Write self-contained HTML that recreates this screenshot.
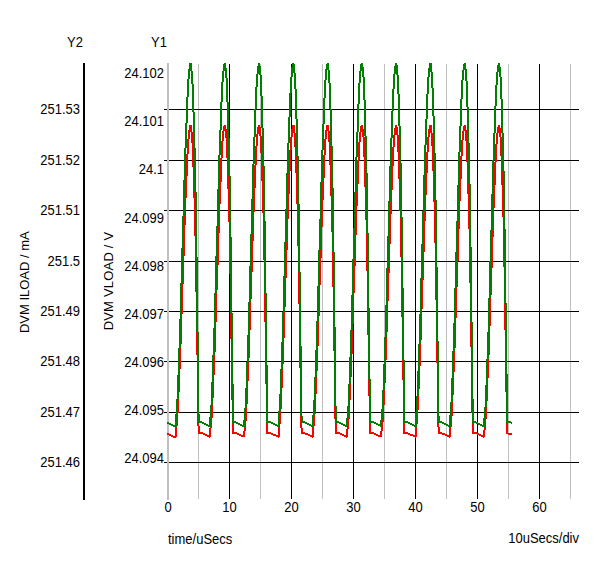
<!DOCTYPE html>
<html><head><meta charset="utf-8"><title>graph</title>
<style>
html,body{margin:0;padding:0;background:#fff;}
body{width:600px;height:563px;overflow:hidden;font-family:"Liberation Sans",sans-serif;}
svg{display:block;}
</style></head><body>
<svg width="600" height="563" viewBox="0 0 600 563">
<defs><clipPath id="clipd"><rect x="167" y="0" width="345" height="563"/></clipPath></defs>
<rect width="600" height="563" fill="#fff"/>
<g shape-rendering="crispEdges">
<rect x="198" y="64" width="1" height="435" fill="#c0c0c0"/>
<rect x="260" y="64" width="1" height="435" fill="#c0c0c0"/>
<rect x="322" y="64" width="1" height="435" fill="#c0c0c0"/>
<rect x="384" y="64" width="1" height="435" fill="#c0c0c0"/>
<rect x="446" y="64" width="1" height="435" fill="#c0c0c0"/>
<rect x="508" y="64" width="1" height="435" fill="#c0c0c0"/>
<rect x="570" y="64" width="1" height="435" fill="#c0c0c0"/>
<rect x="229" y="64" width="1" height="435" fill="#000"/>
<rect x="291" y="64" width="1" height="435" fill="#000"/>
<rect x="353" y="64" width="1" height="435" fill="#000"/>
<rect x="415" y="64" width="1" height="435" fill="#000"/>
<rect x="477" y="64" width="1" height="435" fill="#000"/>
<rect x="539" y="64" width="1" height="435" fill="#000"/>
<rect x="164" y="109" width="415" height="1" fill="#000"/>
<rect x="164" y="160" width="415" height="1" fill="#000"/>
<rect x="164" y="210" width="415" height="1" fill="#000"/>
<rect x="164" y="261" width="415" height="1" fill="#000"/>
<rect x="164" y="311" width="415" height="1" fill="#000"/>
<rect x="164" y="361" width="415" height="1" fill="#000"/>
<rect x="164" y="412" width="415" height="1" fill="#000"/>
<rect x="164" y="462" width="415" height="1" fill="#000"/>
<rect x="167" y="63" width="2" height="437" fill="#c0c0c0"/>
<rect x="83" y="63" width="2" height="437" fill="#000"/>
</g>
<g shape-rendering="crispEdges">
<g fill="#ff0000" clip-path="url(#clipd)"><rect x="175" y="426" width="2" height="11"/><rect x="176" y="413" width="2" height="13"/><rect x="177" y="392" width="2" height="21"/><rect x="178" y="369" width="2" height="23"/><rect x="179" y="344" width="2" height="25"/><rect x="180" y="314" width="2" height="30"/><rect x="181" y="284" width="2" height="30"/><rect x="182" y="256" width="2" height="28"/><rect x="183" y="225" width="2" height="31"/><rect x="184" y="198" width="2" height="27"/><rect x="185" y="176" width="2" height="22"/><rect x="186" y="154" width="2" height="22"/><rect x="187" y="139" width="2" height="15"/><rect x="188" y="130" width="2" height="9"/><rect x="189" y="125" width="2" height="5"/><rect x="190" y="125" width="2" height="7"/><rect x="191" y="132" width="2" height="11"/><rect x="192" y="143" width="2" height="24"/><rect x="193" y="167" width="2" height="31"/><rect x="194" y="198" width="2" height="38"/><rect x="195" y="236" width="2" height="56"/><rect x="196" y="292" width="2" height="63"/><rect x="197" y="355" width="2" height="71"/><rect x="198" y="426" width="2" height="8"/><rect x="209" y="428" width="2" height="9"/><rect x="210" y="418" width="2" height="10"/><rect x="211" y="398" width="2" height="20"/><rect x="212" y="375" width="2" height="23"/><rect x="213" y="352" width="2" height="23"/><rect x="214" y="322" width="2" height="30"/><rect x="215" y="290" width="2" height="32"/><rect x="216" y="265" width="2" height="25"/><rect x="217" y="233" width="2" height="32"/><rect x="218" y="204" width="2" height="29"/><rect x="219" y="182" width="2" height="22"/><rect x="220" y="158" width="2" height="24"/><rect x="221" y="141" width="2" height="17"/><rect x="222" y="131" width="2" height="10"/><rect x="223" y="126" width="2" height="5"/><rect x="224" y="125" width="2" height="4"/><rect x="225" y="129" width="2" height="9"/><rect x="226" y="138" width="2" height="20"/><rect x="227" y="158" width="2" height="31"/><rect x="228" y="189" width="2" height="33"/><rect x="229" y="222" width="2" height="52"/><rect x="230" y="274" width="2" height="65"/><rect x="231" y="339" width="2" height="61"/><rect x="232" y="400" width="2" height="34"/><rect x="243" y="431" width="2" height="6"/><rect x="244" y="421" width="2" height="10"/><rect x="245" y="404" width="2" height="17"/><rect x="246" y="381" width="2" height="23"/><rect x="247" y="358" width="2" height="23"/><rect x="248" y="330" width="2" height="28"/><rect x="249" y="299" width="2" height="31"/><rect x="250" y="272" width="2" height="27"/><rect x="251" y="241" width="2" height="31"/><rect x="252" y="212" width="2" height="29"/><rect x="253" y="188" width="2" height="24"/><rect x="254" y="165" width="2" height="23"/><rect x="255" y="146" width="2" height="19"/><rect x="256" y="134" width="2" height="12"/><rect x="257" y="127" width="2" height="7"/><rect x="258" y="125" width="2" height="2"/><rect x="259" y="127" width="2" height="9"/><rect x="260" y="136" width="2" height="17"/><rect x="261" y="153" width="2" height="28"/><rect x="262" y="181" width="2" height="32"/><rect x="263" y="213" width="2" height="47"/><rect x="264" y="260" width="2" height="62"/><rect x="265" y="322" width="2" height="62"/><rect x="266" y="384" width="2" height="50"/><rect x="278" y="424" width="2" height="13"/><rect x="279" y="409" width="2" height="15"/><rect x="280" y="388" width="2" height="21"/><rect x="281" y="364" width="2" height="24"/><rect x="282" y="338" width="2" height="26"/><rect x="283" y="307" width="2" height="31"/><rect x="284" y="278" width="2" height="29"/><rect x="285" y="250" width="2" height="28"/><rect x="286" y="219" width="2" height="31"/><rect x="287" y="194" width="2" height="25"/><rect x="288" y="171" width="2" height="23"/><rect x="289" y="150" width="2" height="21"/><rect x="290" y="137" width="2" height="13"/><rect x="291" y="129" width="2" height="8"/><rect x="292" y="125" width="2" height="4"/><rect x="293" y="125" width="2" height="8"/><rect x="294" y="133" width="2" height="14"/><rect x="295" y="147" width="2" height="26"/><rect x="296" y="173" width="2" height="31"/><rect x="297" y="204" width="2" height="42"/><rect x="298" y="246" width="2" height="58"/><rect x="299" y="304" width="2" height="64"/><rect x="300" y="368" width="2" height="60"/><rect x="301" y="428" width="2" height="6"/><rect x="312" y="426" width="2" height="11"/><rect x="313" y="414" width="2" height="12"/><rect x="314" y="394" width="2" height="20"/><rect x="315" y="371" width="2" height="23"/><rect x="316" y="346" width="2" height="25"/><rect x="317" y="316" width="2" height="30"/><rect x="318" y="285" width="2" height="31"/><rect x="319" y="258" width="2" height="27"/><rect x="320" y="227" width="2" height="31"/><rect x="321" y="200" width="2" height="27"/><rect x="322" y="178" width="2" height="22"/><rect x="323" y="155" width="2" height="23"/><rect x="324" y="139" width="2" height="16"/><rect x="325" y="130" width="2" height="9"/><rect x="326" y="125" width="2" height="5"/><rect x="327" y="125" width="2" height="6"/><rect x="328" y="131" width="2" height="11"/><rect x="329" y="142" width="2" height="23"/><rect x="330" y="165" width="2" height="31"/><rect x="331" y="196" width="2" height="36"/><rect x="332" y="232" width="2" height="55"/><rect x="333" y="287" width="2" height="64"/><rect x="334" y="351" width="2" height="68"/><rect x="335" y="419" width="2" height="15"/><rect x="346" y="429" width="2" height="8"/><rect x="347" y="419" width="2" height="10"/><rect x="348" y="400" width="2" height="19"/><rect x="349" y="377" width="2" height="23"/><rect x="350" y="354" width="2" height="23"/><rect x="351" y="324" width="2" height="30"/><rect x="352" y="293" width="2" height="31"/><rect x="353" y="266" width="2" height="27"/><rect x="354" y="235" width="2" height="31"/><rect x="355" y="206" width="2" height="29"/><rect x="356" y="184" width="2" height="22"/><rect x="357" y="160" width="2" height="24"/><rect x="358" y="142" width="2" height="18"/><rect x="359" y="132" width="2" height="10"/><rect x="360" y="126" width="2" height="6"/><rect x="361" y="125" width="2" height="4"/><rect x="362" y="129" width="2" height="8"/><rect x="363" y="137" width="2" height="20"/><rect x="364" y="157" width="2" height="30"/><rect x="365" y="187" width="2" height="33"/><rect x="366" y="220" width="2" height="51"/><rect x="367" y="271" width="2" height="64"/><rect x="368" y="335" width="2" height="61"/><rect x="369" y="396" width="2" height="38"/><rect x="380" y="431" width="2" height="6"/><rect x="381" y="422" width="2" height="9"/><rect x="382" y="405" width="2" height="17"/><rect x="383" y="383" width="2" height="22"/><rect x="384" y="360" width="2" height="23"/><rect x="385" y="332" width="2" height="28"/><rect x="386" y="301" width="2" height="31"/><rect x="387" y="273" width="2" height="28"/><rect x="388" y="244" width="2" height="29"/><rect x="389" y="214" width="2" height="30"/><rect x="390" y="190" width="2" height="24"/><rect x="391" y="166" width="2" height="24"/><rect x="392" y="147" width="2" height="19"/><rect x="393" y="135" width="2" height="12"/><rect x="394" y="128" width="2" height="7"/><rect x="395" y="125" width="2" height="3"/><rect x="396" y="127" width="2" height="8"/><rect x="397" y="135" width="2" height="17"/><rect x="398" y="152" width="2" height="27"/><rect x="399" y="179" width="2" height="32"/><rect x="400" y="211" width="2" height="46"/><rect x="401" y="257" width="2" height="60"/><rect x="402" y="317" width="2" height="63"/><rect x="403" y="380" width="2" height="54"/><rect x="415" y="424" width="2" height="13"/><rect x="416" y="410" width="2" height="14"/><rect x="417" y="389" width="2" height="21"/><rect x="418" y="366" width="2" height="23"/><rect x="419" y="340" width="2" height="26"/><rect x="420" y="309" width="2" height="31"/><rect x="421" y="280" width="2" height="29"/><rect x="422" y="252" width="2" height="28"/><rect x="423" y="221" width="2" height="31"/><rect x="424" y="195" width="2" height="26"/><rect x="425" y="173" width="2" height="22"/><rect x="426" y="152" width="2" height="21"/><rect x="427" y="137" width="2" height="15"/><rect x="428" y="129" width="2" height="8"/><rect x="429" y="125" width="2" height="4"/><rect x="430" y="125" width="2" height="8"/><rect x="431" y="133" width="2" height="13"/><rect x="432" y="146" width="2" height="25"/><rect x="433" y="171" width="2" height="31"/><rect x="434" y="202" width="2" height="41"/><rect x="435" y="243" width="2" height="57"/><rect x="436" y="300" width="2" height="63"/><rect x="437" y="363" width="2" height="64"/><rect x="438" y="427" width="2" height="7"/><rect x="449" y="427" width="2" height="10"/><rect x="450" y="416" width="2" height="11"/><rect x="451" y="395" width="2" height="21"/><rect x="452" y="372" width="2" height="23"/><rect x="453" y="348" width="2" height="24"/><rect x="454" y="318" width="2" height="30"/><rect x="455" y="287" width="2" height="31"/><rect x="456" y="261" width="2" height="26"/><rect x="457" y="229" width="2" height="32"/><rect x="458" y="201" width="2" height="28"/><rect x="459" y="179" width="2" height="22"/><rect x="460" y="156" width="2" height="23"/><rect x="461" y="140" width="2" height="16"/><rect x="462" y="131" width="2" height="9"/><rect x="463" y="126" width="2" height="5"/><rect x="464" y="125" width="2" height="5"/><rect x="465" y="130" width="2" height="11"/><rect x="466" y="141" width="2" height="21"/><rect x="467" y="162" width="2" height="32"/><rect x="468" y="194" width="2" height="35"/><rect x="469" y="229" width="2" height="54"/><rect x="470" y="283" width="2" height="64"/><rect x="471" y="347" width="2" height="66"/><rect x="472" y="413" width="2" height="21"/><rect x="483" y="430" width="2" height="7"/><rect x="484" y="419" width="2" height="11"/><rect x="485" y="401" width="2" height="18"/><rect x="486" y="378" width="2" height="23"/><rect x="487" y="355" width="2" height="23"/><rect x="488" y="326" width="2" height="29"/><rect x="489" y="295" width="2" height="31"/><rect x="490" y="268" width="2" height="27"/><rect x="491" y="237" width="2" height="31"/><rect x="492" y="208" width="2" height="29"/><rect x="493" y="185" width="2" height="23"/><rect x="494" y="162" width="2" height="23"/><rect x="495" y="144" width="2" height="18"/><rect x="496" y="133" width="2" height="11"/><rect x="497" y="127" width="2" height="6"/><rect x="498" y="125" width="2" height="3"/><rect x="499" y="128" width="2" height="9"/><rect x="500" y="137" width="2" height="19"/><rect x="501" y="156" width="2" height="29"/><rect x="502" y="185" width="2" height="32"/><rect x="503" y="217" width="2" height="50"/><rect x="504" y="267" width="2" height="63"/><rect x="505" y="330" width="2" height="62"/><rect x="506" y="392" width="2" height="42"/><rect x="167" y="433" width="1" height="2"/><rect x="168" y="433" width="1" height="2"/><rect x="169" y="434" width="1" height="2"/><rect x="170" y="434" width="1" height="2"/><rect x="171" y="435" width="1" height="2"/><rect x="172" y="435" width="1" height="2"/><rect x="173" y="436" width="1" height="2"/><rect x="174" y="436" width="1" height="2"/><rect x="175" y="436" width="1" height="2"/><rect x="200" y="432" width="1" height="2"/><rect x="201" y="432" width="1" height="2"/><rect x="202" y="432" width="1" height="2"/><rect x="203" y="433" width="1" height="2"/><rect x="204" y="433" width="1" height="2"/><rect x="205" y="434" width="1" height="2"/><rect x="206" y="434" width="1" height="2"/><rect x="207" y="435" width="1" height="2"/><rect x="208" y="435" width="1" height="2"/><rect x="209" y="436" width="1" height="2"/><rect x="234" y="432" width="1" height="2"/><rect x="235" y="432" width="1" height="2"/><rect x="236" y="432" width="1" height="2"/><rect x="237" y="433" width="1" height="2"/><rect x="238" y="433" width="1" height="2"/><rect x="239" y="434" width="1" height="2"/><rect x="240" y="434" width="1" height="2"/><rect x="241" y="435" width="1" height="2"/><rect x="242" y="435" width="1" height="2"/><rect x="243" y="435" width="1" height="2"/><rect x="268" y="432" width="1" height="2"/><rect x="269" y="432" width="1" height="2"/><rect x="270" y="432" width="1" height="2"/><rect x="271" y="433" width="1" height="2"/><rect x="272" y="433" width="1" height="2"/><rect x="273" y="434" width="1" height="2"/><rect x="274" y="434" width="1" height="2"/><rect x="275" y="434" width="1" height="2"/><rect x="276" y="435" width="1" height="2"/><rect x="277" y="435" width="1" height="2"/><rect x="278" y="436" width="1" height="2"/><rect x="303" y="432" width="1" height="2"/><rect x="304" y="432" width="1" height="2"/><rect x="305" y="433" width="1" height="2"/><rect x="306" y="433" width="1" height="2"/><rect x="307" y="433" width="1" height="2"/><rect x="308" y="434" width="1" height="2"/><rect x="309" y="434" width="1" height="2"/><rect x="310" y="435" width="1" height="2"/><rect x="311" y="435" width="1" height="2"/><rect x="312" y="436" width="1" height="2"/><rect x="337" y="432" width="1" height="2"/><rect x="338" y="432" width="1" height="2"/><rect x="339" y="432" width="1" height="2"/><rect x="340" y="433" width="1" height="2"/><rect x="341" y="433" width="1" height="2"/><rect x="342" y="434" width="1" height="2"/><rect x="343" y="434" width="1" height="2"/><rect x="344" y="435" width="1" height="2"/><rect x="345" y="435" width="1" height="2"/><rect x="346" y="436" width="1" height="2"/><rect x="371" y="432" width="1" height="2"/><rect x="372" y="432" width="1" height="2"/><rect x="373" y="432" width="1" height="2"/><rect x="374" y="433" width="1" height="2"/><rect x="375" y="433" width="1" height="2"/><rect x="376" y="434" width="1" height="2"/><rect x="377" y="434" width="1" height="2"/><rect x="378" y="435" width="1" height="2"/><rect x="379" y="435" width="1" height="2"/><rect x="380" y="435" width="1" height="2"/><rect x="405" y="432" width="1" height="2"/><rect x="406" y="432" width="1" height="2"/><rect x="407" y="432" width="1" height="2"/><rect x="408" y="433" width="1" height="2"/><rect x="409" y="433" width="1" height="2"/><rect x="410" y="434" width="1" height="2"/><rect x="411" y="434" width="1" height="2"/><rect x="412" y="434" width="1" height="2"/><rect x="413" y="435" width="1" height="2"/><rect x="414" y="435" width="1" height="2"/><rect x="415" y="436" width="1" height="2"/><rect x="440" y="432" width="1" height="2"/><rect x="441" y="432" width="1" height="2"/><rect x="442" y="433" width="1" height="2"/><rect x="443" y="433" width="1" height="2"/><rect x="444" y="433" width="1" height="2"/><rect x="445" y="434" width="1" height="2"/><rect x="446" y="434" width="1" height="2"/><rect x="447" y="435" width="1" height="2"/><rect x="448" y="435" width="1" height="2"/><rect x="449" y="436" width="1" height="2"/><rect x="474" y="432" width="1" height="2"/><rect x="475" y="432" width="1" height="2"/><rect x="476" y="432" width="1" height="2"/><rect x="477" y="433" width="1" height="2"/><rect x="478" y="433" width="1" height="2"/><rect x="479" y="434" width="1" height="2"/><rect x="480" y="434" width="1" height="2"/><rect x="481" y="435" width="1" height="2"/><rect x="482" y="435" width="1" height="2"/><rect x="483" y="436" width="1" height="2"/><rect x="508" y="433" width="1" height="2"/><rect x="509" y="433" width="1" height="2"/><rect x="510" y="433" width="1" height="2"/><rect x="511" y="433" width="1" height="2"/></g>
<g fill="#008000" clip-path="url(#clipd)"><rect x="175" y="414" width="2" height="13"/><rect x="176" y="399" width="2" height="15"/><rect x="177" y="375" width="2" height="24"/><rect x="178" y="348" width="2" height="27"/><rect x="179" y="319" width="2" height="29"/><rect x="180" y="283" width="2" height="36"/><rect x="181" y="248" width="2" height="35"/><rect x="182" y="216" width="2" height="32"/><rect x="183" y="180" width="2" height="36"/><rect x="184" y="148" width="2" height="32"/><rect x="185" y="123" width="2" height="25"/><rect x="186" y="97" width="2" height="26"/><rect x="187" y="79" width="2" height="18"/><rect x="188" y="69" width="2" height="10"/><rect x="189" y="63" width="2" height="6"/><rect x="190" y="63" width="2" height="8"/><rect x="191" y="71" width="2" height="13"/><rect x="192" y="84" width="2" height="28"/><rect x="193" y="112" width="2" height="36"/><rect x="194" y="148" width="2" height="44"/><rect x="195" y="192" width="2" height="65"/><rect x="196" y="257" width="2" height="75"/><rect x="197" y="332" width="2" height="82"/><rect x="198" y="414" width="2" height="9"/><rect x="209" y="417" width="2" height="10"/><rect x="210" y="405" width="2" height="12"/><rect x="211" y="382" width="2" height="23"/><rect x="212" y="355" width="2" height="27"/><rect x="213" y="328" width="2" height="27"/><rect x="214" y="293" width="2" height="35"/><rect x="215" y="256" width="2" height="37"/><rect x="216" y="226" width="2" height="30"/><rect x="217" y="189" width="2" height="37"/><rect x="218" y="155" width="2" height="34"/><rect x="219" y="130" width="2" height="25"/><rect x="220" y="102" width="2" height="28"/><rect x="221" y="82" width="2" height="20"/><rect x="222" y="71" width="2" height="11"/><rect x="223" y="64" width="2" height="7"/><rect x="224" y="63" width="2" height="5"/><rect x="225" y="68" width="2" height="10"/><rect x="226" y="78" width="2" height="24"/><rect x="227" y="102" width="2" height="36"/><rect x="228" y="138" width="2" height="38"/><rect x="229" y="176" width="2" height="61"/><rect x="230" y="237" width="2" height="76"/><rect x="231" y="313" width="2" height="71"/><rect x="232" y="384" width="2" height="39"/><rect x="243" y="420" width="2" height="7"/><rect x="244" y="408" width="2" height="12"/><rect x="245" y="388" width="2" height="20"/><rect x="246" y="362" width="2" height="26"/><rect x="247" y="335" width="2" height="27"/><rect x="248" y="302" width="2" height="33"/><rect x="249" y="266" width="2" height="36"/><rect x="250" y="234" width="2" height="32"/><rect x="251" y="199" width="2" height="35"/><rect x="252" y="164" width="2" height="35"/><rect x="253" y="137" width="2" height="27"/><rect x="254" y="109" width="2" height="28"/><rect x="255" y="87" width="2" height="22"/><rect x="256" y="74" width="2" height="13"/><rect x="257" y="66" width="2" height="8"/><rect x="258" y="63" width="2" height="3"/><rect x="259" y="66" width="2" height="9"/><rect x="260" y="75" width="2" height="21"/><rect x="261" y="96" width="2" height="32"/><rect x="262" y="128" width="2" height="38"/><rect x="263" y="166" width="2" height="55"/><rect x="264" y="221" width="2" height="72"/><rect x="265" y="293" width="2" height="72"/><rect x="266" y="365" width="2" height="58"/><rect x="278" y="411" width="2" height="16"/><rect x="279" y="394" width="2" height="17"/><rect x="280" y="369" width="2" height="25"/><rect x="281" y="342" width="2" height="27"/><rect x="282" y="312" width="2" height="30"/><rect x="283" y="276" width="2" height="36"/><rect x="284" y="242" width="2" height="34"/><rect x="285" y="209" width="2" height="33"/><rect x="286" y="173" width="2" height="36"/><rect x="287" y="143" width="2" height="30"/><rect x="288" y="117" width="2" height="26"/><rect x="289" y="93" width="2" height="24"/><rect x="290" y="77" width="2" height="16"/><rect x="291" y="67" width="2" height="10"/><rect x="292" y="63" width="2" height="4"/><rect x="293" y="64" width="2" height="9"/><rect x="294" y="73" width="2" height="16"/><rect x="295" y="89" width="2" height="30"/><rect x="296" y="119" width="2" height="37"/><rect x="297" y="156" width="2" height="48"/><rect x="298" y="204" width="2" height="68"/><rect x="299" y="272" width="2" height="74"/><rect x="300" y="346" width="2" height="70"/><rect x="301" y="416" width="2" height="7"/><rect x="312" y="415" width="2" height="12"/><rect x="313" y="400" width="2" height="15"/><rect x="314" y="377" width="2" height="23"/><rect x="315" y="350" width="2" height="27"/><rect x="316" y="321" width="2" height="29"/><rect x="317" y="286" width="2" height="35"/><rect x="318" y="250" width="2" height="36"/><rect x="319" y="219" width="2" height="31"/><rect x="320" y="182" width="2" height="37"/><rect x="321" y="150" width="2" height="32"/><rect x="322" y="124" width="2" height="26"/><rect x="323" y="98" width="2" height="26"/><rect x="324" y="80" width="2" height="18"/><rect x="325" y="69" width="2" height="11"/><rect x="326" y="64" width="2" height="5"/><rect x="327" y="63" width="2" height="7"/><rect x="328" y="70" width="2" height="13"/><rect x="329" y="83" width="2" height="26"/><rect x="330" y="109" width="2" height="37"/><rect x="331" y="146" width="2" height="42"/><rect x="332" y="188" width="2" height="64"/><rect x="333" y="252" width="2" height="75"/><rect x="334" y="327" width="2" height="79"/><rect x="335" y="406" width="2" height="17"/><rect x="346" y="418" width="2" height="9"/><rect x="347" y="406" width="2" height="12"/><rect x="348" y="384" width="2" height="22"/><rect x="349" y="357" width="2" height="27"/><rect x="350" y="330" width="2" height="27"/><rect x="351" y="295" width="2" height="35"/><rect x="352" y="259" width="2" height="36"/><rect x="353" y="228" width="2" height="31"/><rect x="354" y="192" width="2" height="36"/><rect x="355" y="157" width="2" height="35"/><rect x="356" y="132" width="2" height="25"/><rect x="357" y="104" width="2" height="28"/><rect x="358" y="83" width="2" height="21"/><rect x="359" y="71" width="2" height="12"/><rect x="360" y="64" width="2" height="7"/><rect x="361" y="63" width="2" height="4"/><rect x="362" y="67" width="2" height="10"/><rect x="363" y="77" width="2" height="23"/><rect x="364" y="100" width="2" height="36"/><rect x="365" y="136" width="2" height="37"/><rect x="366" y="173" width="2" height="60"/><rect x="367" y="233" width="2" height="75"/><rect x="368" y="308" width="2" height="71"/><rect x="369" y="379" width="2" height="44"/><rect x="380" y="420" width="2" height="7"/><rect x="381" y="409" width="2" height="11"/><rect x="382" y="390" width="2" height="19"/><rect x="383" y="364" width="2" height="26"/><rect x="384" y="337" width="2" height="27"/><rect x="385" y="305" width="2" height="32"/><rect x="386" y="268" width="2" height="37"/><rect x="387" y="236" width="2" height="32"/><rect x="388" y="201" width="2" height="35"/><rect x="389" y="166" width="2" height="35"/><rect x="390" y="138" width="2" height="28"/><rect x="391" y="111" width="2" height="27"/><rect x="392" y="89" width="2" height="22"/><rect x="393" y="74" width="2" height="15"/><rect x="394" y="66" width="2" height="8"/><rect x="395" y="63" width="2" height="3"/><rect x="396" y="65" width="2" height="10"/><rect x="397" y="75" width="2" height="19"/><rect x="398" y="94" width="2" height="32"/><rect x="399" y="126" width="2" height="37"/><rect x="400" y="163" width="2" height="54"/><rect x="401" y="217" width="2" height="71"/><rect x="402" y="288" width="2" height="72"/><rect x="403" y="360" width="2" height="63"/><rect x="415" y="412" width="2" height="15"/><rect x="416" y="396" width="2" height="16"/><rect x="417" y="371" width="2" height="25"/><rect x="418" y="344" width="2" height="27"/><rect x="419" y="314" width="2" height="30"/><rect x="420" y="278" width="2" height="36"/><rect x="421" y="244" width="2" height="34"/><rect x="422" y="211" width="2" height="33"/><rect x="423" y="175" width="2" height="36"/><rect x="424" y="145" width="2" height="30"/><rect x="425" y="119" width="2" height="26"/><rect x="426" y="94" width="2" height="25"/><rect x="427" y="77" width="2" height="17"/><rect x="428" y="68" width="2" height="9"/><rect x="429" y="63" width="2" height="5"/><rect x="430" y="63" width="2" height="9"/><rect x="431" y="72" width="2" height="16"/><rect x="432" y="88" width="2" height="28"/><rect x="433" y="116" width="2" height="37"/><rect x="434" y="153" width="2" height="47"/><rect x="435" y="200" width="2" height="67"/><rect x="436" y="267" width="2" height="74"/><rect x="437" y="341" width="2" height="75"/><rect x="438" y="416" width="2" height="7"/><rect x="449" y="415" width="2" height="12"/><rect x="450" y="402" width="2" height="13"/><rect x="451" y="378" width="2" height="24"/><rect x="452" y="351" width="2" height="27"/><rect x="453" y="323" width="2" height="28"/><rect x="454" y="288" width="2" height="35"/><rect x="455" y="252" width="2" height="36"/><rect x="456" y="221" width="2" height="31"/><rect x="457" y="185" width="2" height="36"/><rect x="458" y="152" width="2" height="33"/><rect x="459" y="126" width="2" height="26"/><rect x="460" y="99" width="2" height="27"/><rect x="461" y="80" width="2" height="19"/><rect x="462" y="70" width="2" height="10"/><rect x="463" y="64" width="2" height="6"/><rect x="464" y="63" width="2" height="6"/><rect x="465" y="69" width="2" height="12"/><rect x="466" y="81" width="2" height="26"/><rect x="467" y="107" width="2" height="36"/><rect x="468" y="143" width="2" height="41"/><rect x="469" y="184" width="2" height="63"/><rect x="470" y="247" width="2" height="75"/><rect x="471" y="322" width="2" height="77"/><rect x="472" y="399" width="2" height="24"/><rect x="483" y="418" width="2" height="9"/><rect x="484" y="407" width="2" height="11"/><rect x="485" y="385" width="2" height="22"/><rect x="486" y="359" width="2" height="26"/><rect x="487" y="332" width="2" height="27"/><rect x="488" y="298" width="2" height="34"/><rect x="489" y="261" width="2" height="37"/><rect x="490" y="230" width="2" height="31"/><rect x="491" y="194" width="2" height="36"/><rect x="492" y="160" width="2" height="34"/><rect x="493" y="133" width="2" height="27"/><rect x="494" y="106" width="2" height="27"/><rect x="495" y="85" width="2" height="21"/><rect x="496" y="72" width="2" height="13"/><rect x="497" y="65" width="2" height="7"/><rect x="498" y="63" width="2" height="4"/><rect x="499" y="67" width="2" height="10"/><rect x="500" y="77" width="2" height="22"/><rect x="501" y="99" width="2" height="34"/><rect x="502" y="133" width="2" height="38"/><rect x="503" y="171" width="2" height="58"/><rect x="504" y="229" width="2" height="74"/><rect x="505" y="303" width="2" height="71"/><rect x="506" y="374" width="2" height="49"/><rect x="167" y="422" width="1" height="2"/><rect x="168" y="422" width="1" height="2"/><rect x="169" y="423" width="1" height="2"/><rect x="170" y="423" width="1" height="2"/><rect x="171" y="424" width="1" height="2"/><rect x="172" y="424" width="1" height="2"/><rect x="173" y="425" width="1" height="2"/><rect x="174" y="425" width="1" height="2"/><rect x="175" y="425" width="1" height="2"/><rect x="200" y="421" width="1" height="2"/><rect x="201" y="421" width="1" height="2"/><rect x="202" y="422" width="1" height="2"/><rect x="203" y="422" width="1" height="2"/><rect x="204" y="423" width="1" height="2"/><rect x="205" y="423" width="1" height="2"/><rect x="206" y="424" width="1" height="2"/><rect x="207" y="424" width="1" height="2"/><rect x="208" y="425" width="1" height="2"/><rect x="209" y="425" width="1" height="2"/><rect x="234" y="421" width="1" height="2"/><rect x="235" y="421" width="1" height="2"/><rect x="236" y="422" width="1" height="2"/><rect x="237" y="422" width="1" height="2"/><rect x="238" y="423" width="1" height="2"/><rect x="239" y="423" width="1" height="2"/><rect x="240" y="424" width="1" height="2"/><rect x="241" y="424" width="1" height="2"/><rect x="242" y="425" width="1" height="2"/><rect x="243" y="425" width="1" height="2"/><rect x="268" y="421" width="1" height="2"/><rect x="269" y="421" width="1" height="2"/><rect x="270" y="421" width="1" height="2"/><rect x="271" y="422" width="1" height="2"/><rect x="272" y="422" width="1" height="2"/><rect x="273" y="423" width="1" height="2"/><rect x="274" y="423" width="1" height="2"/><rect x="275" y="424" width="1" height="2"/><rect x="276" y="424" width="1" height="2"/><rect x="277" y="425" width="1" height="2"/><rect x="278" y="425" width="1" height="2"/><rect x="303" y="421" width="1" height="2"/><rect x="304" y="421" width="1" height="2"/><rect x="305" y="422" width="1" height="2"/><rect x="306" y="422" width="1" height="2"/><rect x="307" y="423" width="1" height="2"/><rect x="308" y="423" width="1" height="2"/><rect x="309" y="424" width="1" height="2"/><rect x="310" y="424" width="1" height="2"/><rect x="311" y="425" width="1" height="2"/><rect x="312" y="425" width="1" height="2"/><rect x="337" y="421" width="1" height="2"/><rect x="338" y="421" width="1" height="2"/><rect x="339" y="422" width="1" height="2"/><rect x="340" y="422" width="1" height="2"/><rect x="341" y="423" width="1" height="2"/><rect x="342" y="423" width="1" height="2"/><rect x="343" y="424" width="1" height="2"/><rect x="344" y="424" width="1" height="2"/><rect x="345" y="425" width="1" height="2"/><rect x="346" y="425" width="1" height="2"/><rect x="371" y="421" width="1" height="2"/><rect x="372" y="421" width="1" height="2"/><rect x="373" y="421" width="1" height="2"/><rect x="374" y="422" width="1" height="2"/><rect x="375" y="422" width="1" height="2"/><rect x="376" y="423" width="1" height="2"/><rect x="377" y="423" width="1" height="2"/><rect x="378" y="424" width="1" height="2"/><rect x="379" y="424" width="1" height="2"/><rect x="380" y="425" width="1" height="2"/><rect x="405" y="421" width="1" height="2"/><rect x="406" y="421" width="1" height="2"/><rect x="407" y="421" width="1" height="2"/><rect x="408" y="422" width="1" height="2"/><rect x="409" y="422" width="1" height="2"/><rect x="410" y="423" width="1" height="2"/><rect x="411" y="423" width="1" height="2"/><rect x="412" y="424" width="1" height="2"/><rect x="413" y="424" width="1" height="2"/><rect x="414" y="425" width="1" height="2"/><rect x="415" y="425" width="1" height="2"/><rect x="440" y="421" width="1" height="2"/><rect x="441" y="421" width="1" height="2"/><rect x="442" y="422" width="1" height="2"/><rect x="443" y="422" width="1" height="2"/><rect x="444" y="423" width="1" height="2"/><rect x="445" y="423" width="1" height="2"/><rect x="446" y="424" width="1" height="2"/><rect x="447" y="424" width="1" height="2"/><rect x="448" y="425" width="1" height="2"/><rect x="449" y="425" width="1" height="2"/><rect x="474" y="421" width="1" height="2"/><rect x="475" y="421" width="1" height="2"/><rect x="476" y="422" width="1" height="2"/><rect x="477" y="422" width="1" height="2"/><rect x="478" y="423" width="1" height="2"/><rect x="479" y="423" width="1" height="2"/><rect x="480" y="424" width="1" height="2"/><rect x="481" y="424" width="1" height="2"/><rect x="482" y="425" width="1" height="2"/><rect x="483" y="425" width="1" height="2"/><rect x="508" y="421" width="1" height="2"/><rect x="509" y="421" width="1" height="2"/><rect x="510" y="421" width="1" height="2"/><rect x="511" y="422" width="1" height="2"/></g>
</g>
<g style="font-family:'Liberation Sans',sans-serif" font-size="14.0" fill="#000">
<text transform="translate(75,47.3) scale(0.9286,1)" text-anchor="middle">Y2</text>
<text transform="translate(159,47.3) scale(0.9286,1)" text-anchor="middle">Y1</text>
<text transform="translate(164,78.2) scale(0.9286,1)" text-anchor="end">24.102</text>
<text transform="translate(164,126.3) scale(0.9286,1)" text-anchor="end">24.101</text>
<text transform="translate(164,174.4) scale(0.9286,1)" text-anchor="end">24.1</text>
<text transform="translate(164,222.6) scale(0.9286,1)" text-anchor="end">24.099</text>
<text transform="translate(164,270.7) scale(0.9286,1)" text-anchor="end">24.098</text>
<text transform="translate(164,318.8) scale(0.9286,1)" text-anchor="end">24.097</text>
<text transform="translate(164,366.9) scale(0.9286,1)" text-anchor="end">24.096</text>
<text transform="translate(164,415.0) scale(0.9286,1)" text-anchor="end">24.095</text>
<text transform="translate(164,463.2) scale(0.9286,1)" text-anchor="end">24.094</text>
<text transform="translate(80,114.1) scale(0.9286,1)" text-anchor="end">251.53</text>
<text transform="translate(80,165.1) scale(0.9286,1)" text-anchor="end">251.52</text>
<text transform="translate(80,215.1) scale(0.9286,1)" text-anchor="end">251.51</text>
<text transform="translate(80,266.1) scale(0.9286,1)" text-anchor="end">251.5</text>
<text transform="translate(80,316.1) scale(0.9286,1)" text-anchor="end">251.49</text>
<text transform="translate(80,366.1) scale(0.9286,1)" text-anchor="end">251.48</text>
<text transform="translate(80,417.1) scale(0.9286,1)" text-anchor="end">251.47</text>
<text transform="translate(80,467.1) scale(0.9286,1)" text-anchor="end">251.46</text>
<text transform="translate(168,512.1) scale(0.9286,1)" text-anchor="middle">0</text>
<text transform="translate(229.5,512.1) scale(0.9286,1)" text-anchor="middle">10</text>
<text transform="translate(291.5,512.1) scale(0.9286,1)" text-anchor="middle">20</text>
<text transform="translate(353.5,512.1) scale(0.9286,1)" text-anchor="middle">30</text>
<text transform="translate(415.5,512.1) scale(0.9286,1)" text-anchor="middle">40</text>
<text transform="translate(477.5,512.1) scale(0.9286,1)" text-anchor="middle">50</text>
<text transform="translate(539.5,512.1) scale(0.9286,1)" text-anchor="middle">60</text>
<text transform="translate(168,543.6) scale(0.9286,1)">time/uSecs</text>
<text transform="translate(579,542.7) scale(0.9286,1)" text-anchor="end">10uSecs/div</text>
<text transform="translate(28.5,282.2) rotate(-90)" text-anchor="middle" font-size="13">DVM ILOAD / mA</text>
<text transform="translate(112.6,281) rotate(-90)" text-anchor="middle" font-size="13" letter-spacing="0.2">DVM VLOAD / V</text>
</g>
</svg>
</body></html>
